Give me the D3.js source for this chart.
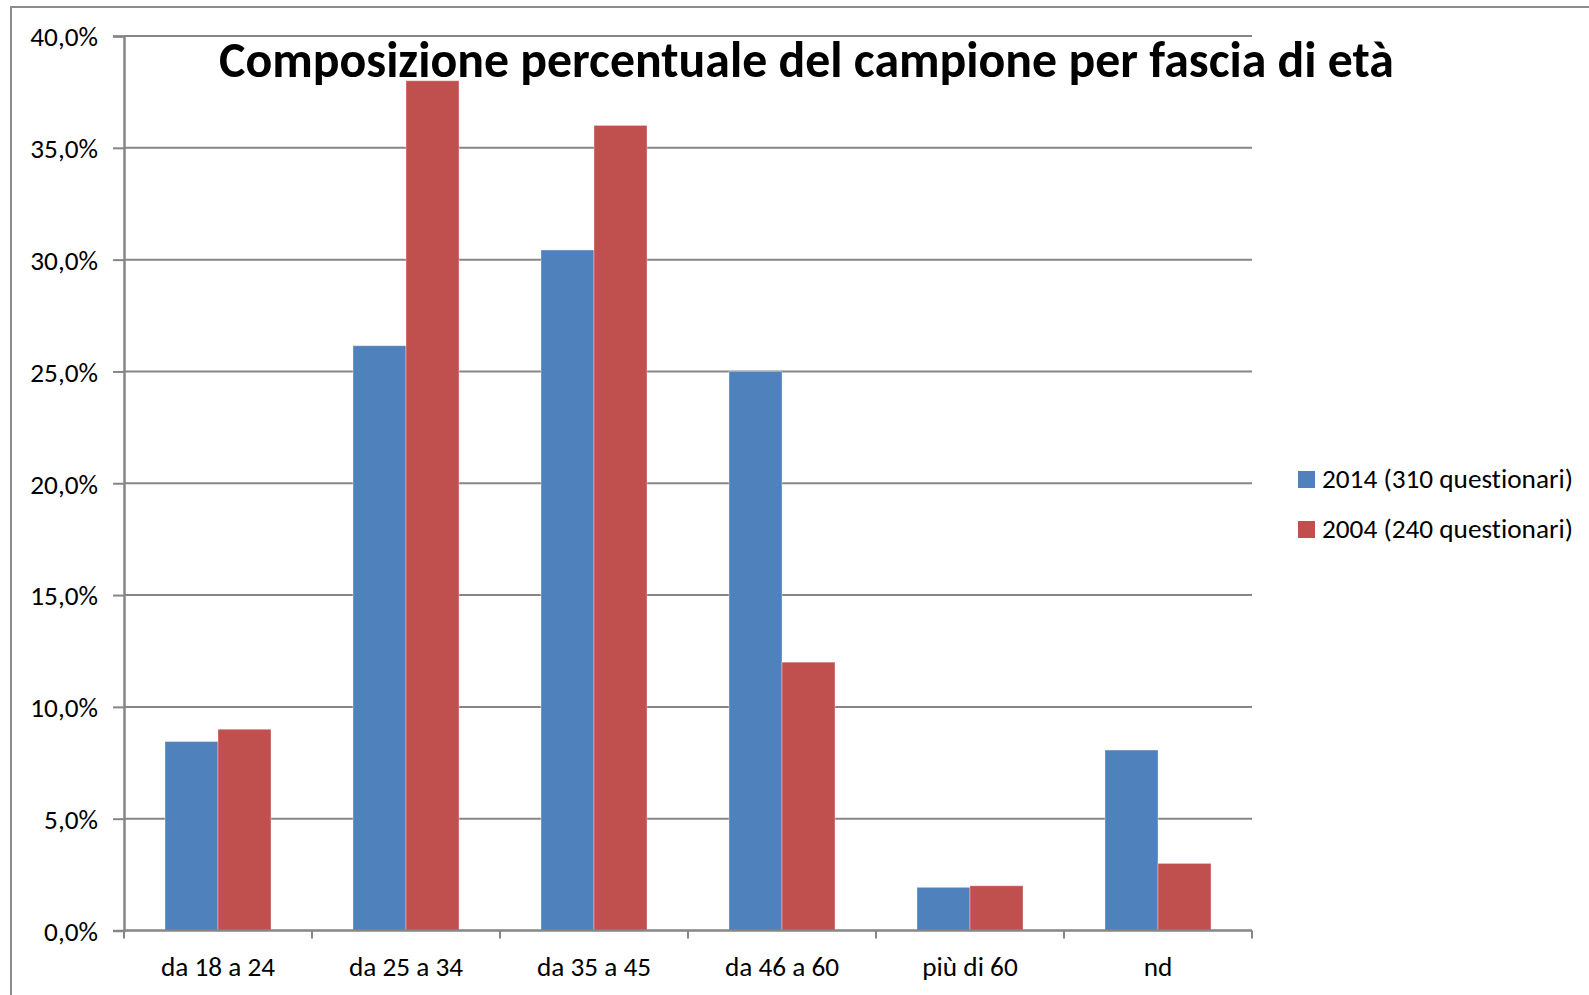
<!DOCTYPE html>
<html>
<head>
<meta charset="utf-8">
<script src="https://cdn.jsdelivr.net/npm/d3@7/dist/d3.min.js"></script>
<style>
  html, body { margin: 0; padding: 0; background: #fff; }
  svg { display: block; }
  text { font-family: Carlito, Calibri, Lato, "Open Sans", sans-serif; fill: #000; font-variant-ligatures: none; font-feature-settings: "liga" 0; }
</style>
</head>
<body>
<svg id="chart" width="1589" height="995"></svg>
<script>
// ---- data ----
const title = "Composizione percentuale del campione per fascia di età";
const categories = ["da 18 a 24", "da 25 a 34", "da 35 a 45", "da 46 a 60", "più di 60", "nd"];
const seriesNames = ["2014 (310 questionari)", "2004 (240 questionari)"];
const values2014 = [8.45, 26.15, 30.43, 25.0, 1.93, 8.07];
const values2004 = [9.0, 38.0, 36.0, 12.0, 2.0, 3.0];
const yTicks = [0, 5, 10, 15, 20, 25, 30, 35, 40];
const colors = ["#4F81BD", "#C0504D"];

// ---- layout ----
const svg = d3.select("#chart");
const W = 1589, H = 995;
const plot = { left: 124, right: 1252, top: 36, bottom: 930.5 };
const gridColor = "#868686";

// outer border
svg.append("path")
  .attr("d", `M11,${H} L11,7 L${W},7`)
  .attr("fill", "none").attr("stroke", "#8c8c8c").attr("stroke-width", 2);

const x = d3.scaleBand().domain(categories).range([plot.left, plot.right]).paddingInner(0).paddingOuter(0);
const xInner = d3.scaleBand().domain(seriesNames).range([0, x.bandwidth()]).paddingInner(0).paddingOuter(0.774);
const y = d3.scaleLinear().domain([0, 40]).range([plot.bottom, plot.top]);

// gridlines
svg.append("g").selectAll("line").data(yTicks.filter(d => d > 0)).join("line")
  .attr("x1", plot.left).attr("x2", plot.right)
  .attr("y1", d => y(d)).attr("y2", d => y(d))
  .attr("stroke", gridColor).attr("stroke-width", 2);

// bars
const series = [values2014, values2004];
const gBars = svg.append("g");
series.forEach((vals, si) => {
  gBars.append("g").selectAll("rect").data(categories).join("rect")
    .attr("x", (c) => x(c) + xInner(seriesNames[si]))
    .attr("width", xInner.bandwidth())
    .attr("y", (c, i) => y(vals[i]))
    .attr("height", (c, i) => y(0) - y(vals[i]))
    .attr("fill", colors[si])
    .attr("stroke", "rgba(255,255,255,0.35)")
    .attr("stroke-width", 1);
});

// y axis
const fmt = d => d3.format(".1f")(d).replace(".", ",") + "%";
const yAxis = d3.axisLeft(y).tickValues(yTicks).tickFormat(fmt).tickSize(11).tickPadding(15);
const gy = svg.append("g").attr("transform", `translate(${plot.left},0)`).call(yAxis);
gy.select(".domain").attr("stroke", gridColor).attr("stroke-width", 2.5);
gy.selectAll(".tick line").attr("stroke", gridColor).attr("stroke-width", 2);
gy.selectAll(".tick text").attr("font-size", 26.7).attr("dy", "0.36em").attr("fill", "#000");

// x axis
const gx = svg.append("g");
gx.append("line").attr("x1", plot.left).attr("x2", plot.right)
  .attr("y1", plot.bottom).attr("y2", plot.bottom)
  .attr("stroke", gridColor).attr("stroke-width", 2.5);
const boundaries = categories.map(c => x(c)).concat([x(categories[categories.length - 1]) + x.bandwidth()]);
gx.selectAll("line.tick").data(boundaries).join("line").attr("class", "tick")
  .attr("x1", d => d).attr("x2", d => d)
  .attr("y1", plot.bottom).attr("y2", plot.bottom + 8)
  .attr("stroke", gridColor).attr("stroke-width", 2);
gx.selectAll("text").data(categories).join("text")
  .attr("x", c => x(c) + x.bandwidth() / 2)
  .attr("y", 976)
  .attr("text-anchor", "middle")
  .attr("font-size", 26.7)
  .text(c => c);

// legend
const legY = [488, 538];
const leg = svg.append("g");
seriesNames.forEach((name, i) => {
  leg.append("rect").attr("x", 1298).attr("y", legY[i] - 17).attr("width", 17).attr("height", 17).attr("fill", colors[i]);
  leg.append("text").attr("class", "legtext").attr("x", 1322).attr("y", legY[i]).attr("font-size", 26.7).text(name);
});

// title
const tt = svg.append("text").attr("x", 806.5).attr("y", 77).attr("text-anchor", "middle")
  .attr("font-weight", "bold").attr("font-size", 44).text(title);

// fit font sizes to reference widths
function fitScale(node, target) {
  const len = node.getComputedTextLength();
  return len > 0 ? target / len : 1;
}
const legNode = leg.select("text.legtext").node();
const k = fitScale(legNode, 251);
const bodySize = 26.7 * k;
svg.selectAll("g text").filter(function(){ return this !== tt.node(); }).attr("font-size", bodySize);
const kt = fitScale(tt.node(), 1175);
tt.attr("font-size", 44 * kt);
</script>
</body>
</html>
